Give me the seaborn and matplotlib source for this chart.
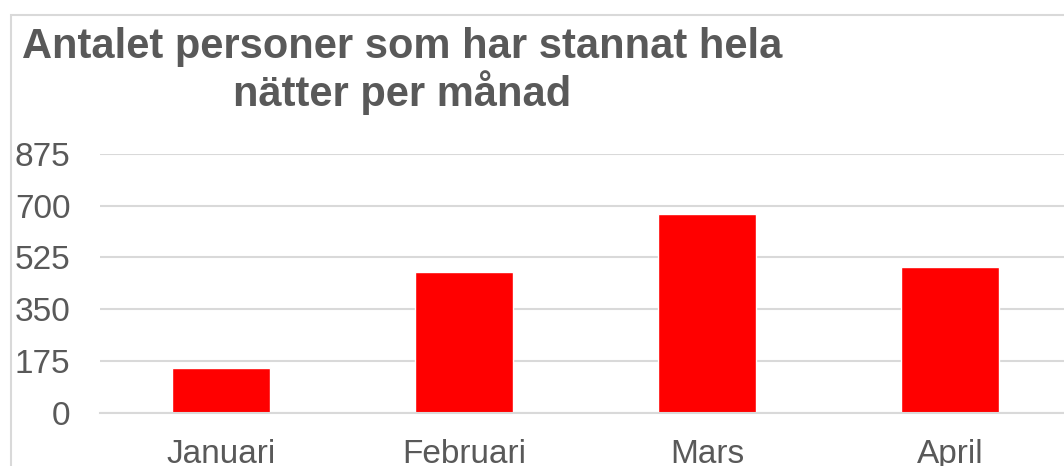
import matplotlib
matplotlib.use("Agg")
import matplotlib.pyplot as plt
from matplotlib.patches import Rectangle
import seaborn as sns
import pandas as pd

# data
months = ["Januari", "Februari", "Mars", "April"]
nights = [150, 477, 672, 494]
yticks = [0, 175, 350, 525, 700, 875]
title = "Antalet personer som har stannat hela\nnätter per månad"

df = pd.DataFrame({"month": months, "nights": nights})

sns.set_style("white")
plt.rcParams["font.family"] = ["Liberation Sans", "DejaVu Sans"]

W, H = 1064, 466
fig = plt.figure(figsize=(W / 100, H / 100), dpi=100)
ax = fig.add_axes([99.5 / W, 1 - 412.7 / H, 972 / W, (412.7 - 154) / H])

sns.barplot(data=df, x="month", y="nights", color="#ff0000", width=0.4,
            saturation=1, ax=ax)

ax.set_ylim(0, 875)
ax.set_yticks(yticks)
ax.yaxis.grid(True, color="#d9d9d9", linewidth=1.5)
ax.set_axisbelow(True)
for s in ["top", "right", "left"]:
    ax.spines[s].set_visible(False)
ax.spines["bottom"].set_color("#d9d9d9")
ax.spines["bottom"].set_linewidth(1.5)
ax.set_xlabel("")
ax.set_ylabel("")
ax.tick_params(axis="y", length=0, pad=21, labelsize=24, labelcolor="#595959")
ax.tick_params(axis="x", length=0, pad=19, labelsize=24, labelcolor="#595959")

# chart border (cut by the image edge on right and bottom)
fig.patches.append(Rectangle((11 / W, -0.2), 1.2, 1.2 - 15 / H,
                             transform=fig.transFigure, fill=False,
                             edgecolor="#d9d9d9", linewidth=1.5))

fig.text(402 / W, 0.942, title, ha="center", va="top", fontsize=30,
         fontweight="bold", color="#595959", linespacing=1.1)

fig.savefig("out.png", dpi=100)
